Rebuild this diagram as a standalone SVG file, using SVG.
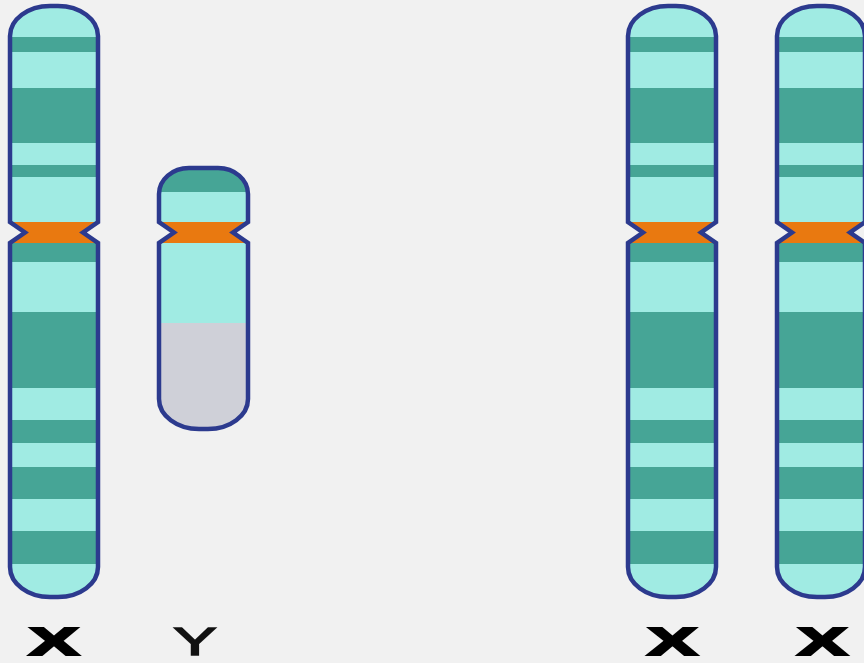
<svg xmlns="http://www.w3.org/2000/svg" width="864" height="663" viewBox="0 0 864 663">
  <style>
    .light { fill: #a0ebe3; }
    .dark { fill: #46a596; }
    .centro { fill: #e97910; }
    .grey { fill: #cfd0d8; }
    .outline { fill: none; stroke: #2c3a8e; stroke-width: 4.5; stroke-linejoin: miter; }
    .lblX { font-family: "Liberation Sans", Arial, sans-serif; font-weight: bold; font-size: 38px; fill: #000; stroke: #000; stroke-width: 2.2; }
    .lblY { font-family: "Liberation Sans", Arial, sans-serif; font-size: 39.5px; fill: #111; stroke: #111; stroke-width: 1.4; }
  </style>
  <defs>
    <!-- X chromosome outline, local coordinates -->
    <path id="xShape" d="M0,36 A40 30 0 0 1 40,6 H48 A40 30 0 0 1 88,36 V222 L73,232.5 L88,243 V567 A40 30 0 0 1 48,597 H40 A40 30 0 0 1 0,567 V243 L15,232.5 L0,222 Z"/>
    <!-- Y chromosome outline, local coordinates -->
    <path id="yShape" d="M0,194 A30 26 0 0 1 30,168 H59 A30 26 0 0 1 89,194 V222 L74,232.5 L89,243 V399 A40 30 0 0 1 49,429 H40 A40 30 0 0 1 0,399 V243 L15,232.5 L0,222 Z"/>
    <clipPath id="xClip"><use href="#xShape"/></clipPath>
    <clipPath id="yClip"><use href="#yShape"/></clipPath>
    <!-- banding pattern of the X chromosome -->
    <g id="xBands">
      <g clip-path="url(#xClip)">
        <rect class="light" x="-5" y="0" width="98" height="605"/>
        <rect class="dark" x="-5" y="37" width="98" height="15"/>
        <rect class="dark" x="-5" y="88" width="98" height="55"/>
        <rect class="dark" x="-5" y="165" width="98" height="12"/>
        <rect class="centro" x="-5" y="222" width="98" height="21"/>
        <rect class="dark" x="-5" y="243" width="98" height="19"/>
        <rect class="dark" x="-5" y="312" width="98" height="76"/>
        <rect class="dark" x="-5" y="420" width="98" height="23"/>
        <rect class="dark" x="-5" y="467" width="98" height="32"/>
        <rect class="dark" x="-5" y="531" width="98" height="33"/>
      </g>
      <use href="#xShape" class="outline"/>
    </g>
  </defs>

  <rect width="864" height="663" fill="#f1f1f1"/>

  <g id="chromosome-x-left" transform="translate(10,0)">
    <use href="#xBands"/>
  </g>

  <g id="chromosome-y" transform="translate(159,0)">
    <g clip-path="url(#yClip)">
      <rect class="dark" x="-5" y="160" width="99" height="32"/>
      <rect class="light" x="-5" y="192" width="99" height="30"/>
      <rect class="centro" x="-5" y="222" width="99" height="21"/>
      <rect class="light" x="-5" y="243" width="99" height="80"/>
      <rect class="grey" x="-5" y="323" width="99" height="115"/>
    </g>
    <use href="#yShape" class="outline"/>
  </g>

  <g id="chromosome-x-right-1" transform="translate(628,0)">
    <use href="#xBands"/>
  </g>

  <g id="chromosome-x-right-2" transform="translate(777,0)">
    <use href="#xBands"/>
  </g>

  <g id="labels">
    <text class="lblX" transform="translate(54,655) scale(1.95,1)" text-anchor="middle">X</text>
    <text class="lblY" transform="translate(195,654.5) scale(1.65,1)" text-anchor="middle">Y</text>
    <text class="lblX" transform="translate(672.5,655) scale(1.95,1)" text-anchor="middle">X</text>
    <text class="lblX" transform="translate(822.5,655) scale(1.95,1)" text-anchor="middle">X</text>
  </g>
</svg>
